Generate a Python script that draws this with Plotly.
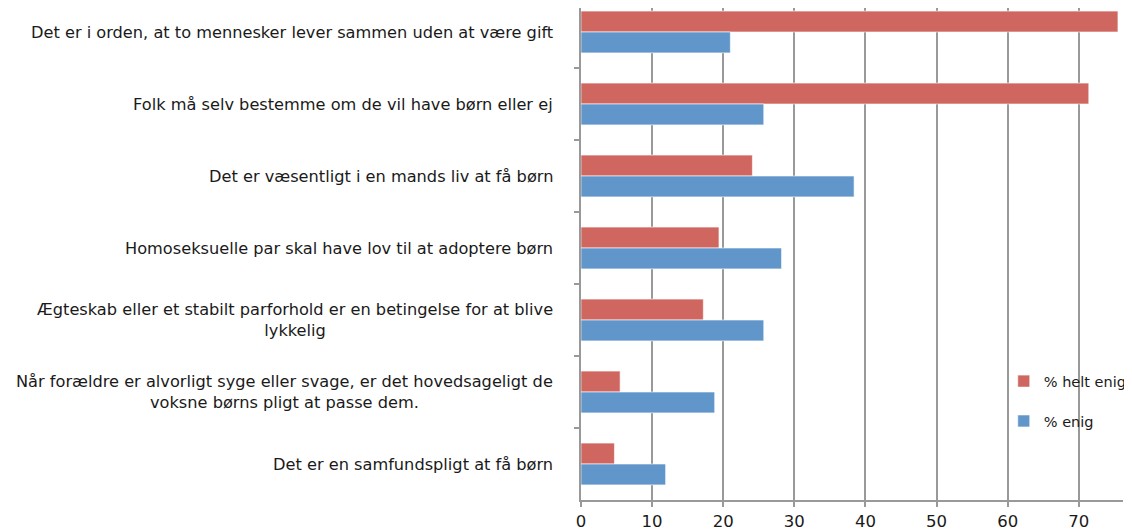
import plotly.graph_objects as go

# ---- data ----
labels = [
    "Det er i orden, at to mennesker lever sammen uden at være gift",
    "Folk må selv bestemme om de vil have børn eller ej",
    "Det er væsentligt i en mands liv at få børn",
    "Homoseksuelle par skal have lov til at adoptere børn",
    "Ægteskab eller et stabilt parforhold er en betingelse for at blive<br>lykkelig",
    "Når forældre er alvorligt syge eller svage, er det hovedsageligt de<br>voksne børns pligt at passe dem.",
    "Det er en samfundspligt at få børn",
]
helt_enig = [75.5, 71.4, 24.1, 19.4, 17.2, 5.5, 4.7]
enig = [21.0, 25.7, 38.4, 28.2, 25.7, 18.8, 11.9]
x_ticks = [0, 10, 20, 30, 40, 50, 60, 70]
series_names = ["% helt enig", "% enig"]

FONT = "DejaVu Sans"
RED = "#CF665F"
BLUE = "#6196CA"
GRID = "#999999"

fig = go.Figure()
fig.add_bar(
    y=labels, x=helt_enig, orientation="h", name=series_names[0],
    legendgroup="a",
    marker=dict(color=RED, line=dict(color="rgba(255,255,255,0.6)", width=1)),
)
fig.add_bar(
    y=labels, x=enig, orientation="h", name=series_names[1],
    legendgroup="b",
    marker=dict(color=BLUE, line=dict(color="rgba(255,255,255,0.6)", width=1)),
)

# page body has an 8px margin: figure is placed at (8, 8)
plot_w = 551
for lab in labels:
    fig.add_annotation(
        x=-26 / plot_w, xref="paper", y=lab, yref="y",
        text=lab, showarrow=False, xanchor="right", align="center",
        font=dict(family=FONT, size=16.2, color="#1a1a1a"),
    )

fig.update_layout(
    width=1124, height=523,
    margin=dict(l=573, r=0, t=0, b=31),
    plot_bgcolor="white", paper_bgcolor="white",
    barmode="group", bargap=0.42, bargroupgap=0,
    font=dict(family=FONT, size=16.2, color="#1a1a1a"),
    legend=dict(
        x=0.78, y=0.274, xanchor="left", yanchor="top",
        bgcolor="rgba(0,0,0,0)", traceorder="grouped", tracegroupgap=18,
        font=dict(family=FONT, size=14.5, color="#1a1a1a"),
    ),
    xaxis=dict(
        range=[0, plot_w / 7.23], tickvals=x_ticks,
        showgrid=True, gridcolor=GRID, gridwidth=2,
        zeroline=False, showline=True, linecolor=GRID, linewidth=2,
        ticks="outside", ticklen=5, tickcolor=GRID, tickwidth=2,
        tickfont=dict(family=FONT, size=16.5, color="#1a1a1a"),
    ),
    yaxis=dict(
        type="category", categoryorder="array", categoryarray=labels,
        range=[6.5, 6.5 - 492 / 72],
        showticklabels=False, showgrid=False, zeroline=False,
        showline=True, linecolor=GRID, linewidth=2,
        ticks="outside", ticklen=5, tickcolor=GRID, tickwidth=2,
        tickson="boundaries",
    ),
)

fig.write_html("out.html")
